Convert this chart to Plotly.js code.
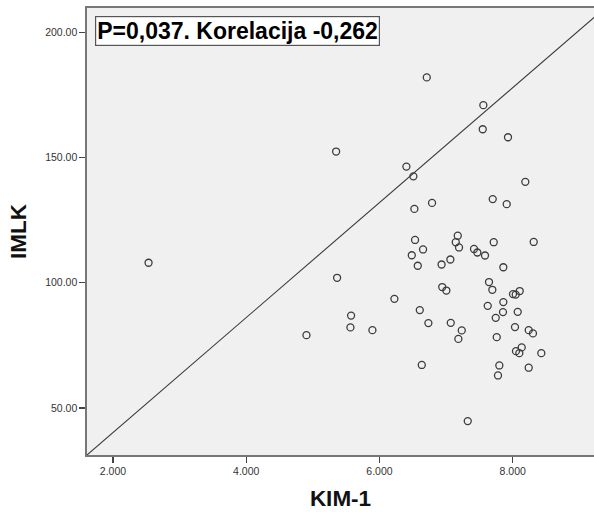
<!DOCTYPE html>
<html>
<head>
<meta charset="utf-8">
<script src="https://cdn.plot.ly/plotly-3.0.1.min.js"></script>
<style>html,body{margin:0;padding:0;background:#fff;overflow:hidden}</style>
</head>
<body>
<div id="chart" style="width:594px;height:512px"></div>
<script>
// KIM-1 values (x)
const kim1 = [
  2.534, 6.710, 7.559, 7.550, 7.929, 5.349, 6.404, 6.509, 8.189, 6.789,
  6.524, 7.700, 7.910, 7.175, 6.534, 7.145, 7.715, 8.315, 7.194, 6.654,
  7.419, 7.469, 6.485, 7.584, 7.064, 6.575, 6.932, 7.859, 5.364, 6.942,
  7.004, 7.644, 7.694, 8.004, 8.045, 8.105, 6.224, 7.859, 7.625, 6.605,
  7.854, 8.075, 5.574, 7.745, 5.564, 5.894, 6.734, 7.070, 8.034, 7.235,
  7.184, 4.904, 7.760, 8.240, 8.304, 8.135, 8.049, 8.099, 8.429, 6.635,
  7.799, 7.779, 8.240, 7.325
];
// IMLK values (y)
const imlk = [
  108.0, 182.0, 170.9, 161.3, 158.1, 152.4, 146.4, 142.5, 140.3, 131.9,
  129.5, 133.4, 131.4, 118.8, 117.1, 116.2, 116.2, 116.3, 114.1, 113.3,
  113.5, 112.1, 111.0, 110.9, 109.3, 106.8, 107.3, 106.2, 102.0, 98.3,
  96.9, 100.3, 97.2, 95.5, 95.3, 96.7, 93.6, 92.3, 90.8, 89.1,
  88.3, 88.4, 86.9, 86.0, 82.2, 81.1, 83.9, 84.0, 82.3, 81.0,
  77.6, 79.1, 78.3, 81.1, 79.8, 74.2, 72.7, 71.9, 71.9, 67.2,
  67.0, 63.0, 66.1, 44.8
];
// Diagonal reference line endpoints
const refLineX = [1.61, 9.384];
const refLineY = [31.25, 209.7];
// Axis ticks
const xTicks = [2, 4, 6, 8];
const yTicks = [50, 100, 150, 200];
const annotationText = "P=0,037. Korelacija -0,262";

const FONT = "Liberation Sans, Arial, sans-serif";

const traces = [
  {
    x: refLineX, y: refLineY, type: "scatter", mode: "lines",
    line: {color: "#3a3a3a", width: 1.1}, hoverinfo: "skip", showlegend: false
  },
  {
    x: kim1, y: imlk, type: "scatter", mode: "markers",
    marker: {symbol: "circle-open", size: 7, color: "#3c3c3c", line: {width: 1.3, color: "#3c3c3c"}},
    showlegend: false
  }
];

const layout = {
  width: 594, height: 512,
  margin: {l: 87, r: 0, t: 8, b: 57, pad: 0},
  paper_bgcolor: "#ffffff",
  plot_bgcolor: "#f0f0f0",
  font: {family: FONT, color: "#222"},
  xaxis: {
    range: [1.61, 9.22],
    tickvals: xTicks, tickformat: ".3f",
    ticks: "outside", ticklen: 6, tickwidth: 1.3, tickcolor: "#444",
    tickfont: {size: 10.5, color: "#333", family: FONT},
    showgrid: false, zeroline: false,
    showline: true, linecolor: "#777", linewidth: 1.6, mirror: true,
    title: {text: "KIM-1", font: {size: 22.5, color: "#111", family: FONT, weight: "bold"}, standoff: 14}
  },
  yaxis: {
    range: [31.25, 209.7],
    tickvals: yTicks, tickformat: ".2f",
    ticks: "outside", ticklen: 6, tickwidth: 1.3, tickcolor: "#444",
    tickfont: {size: 10.5, color: "#333", family: FONT},
    showgrid: false, zeroline: false,
    showline: true, linecolor: "#777", linewidth: 1.6,
    title: {text: "IMLK", font: {size: 22.5, color: "#111", family: FONT, weight: "bold"}, standoff: 12}
  },
  annotations: [{
    text: "<b>" + annotationText + "</b>",
    xref: "paper", yref: "paper", x: 0.0158, y: 0.982,
    xanchor: "left", yanchor: "top", showarrow: false,
    font: {size: 23, color: "#000", family: FONT},
    bgcolor: "#ffffff", bordercolor: "#555", borderwidth: 1.2, borderpad: 1
  }]
};

Plotly.newPlot("chart", traces, layout, {displayModeBar: false, staticPlot: true});
</script>
</body>
</html>
